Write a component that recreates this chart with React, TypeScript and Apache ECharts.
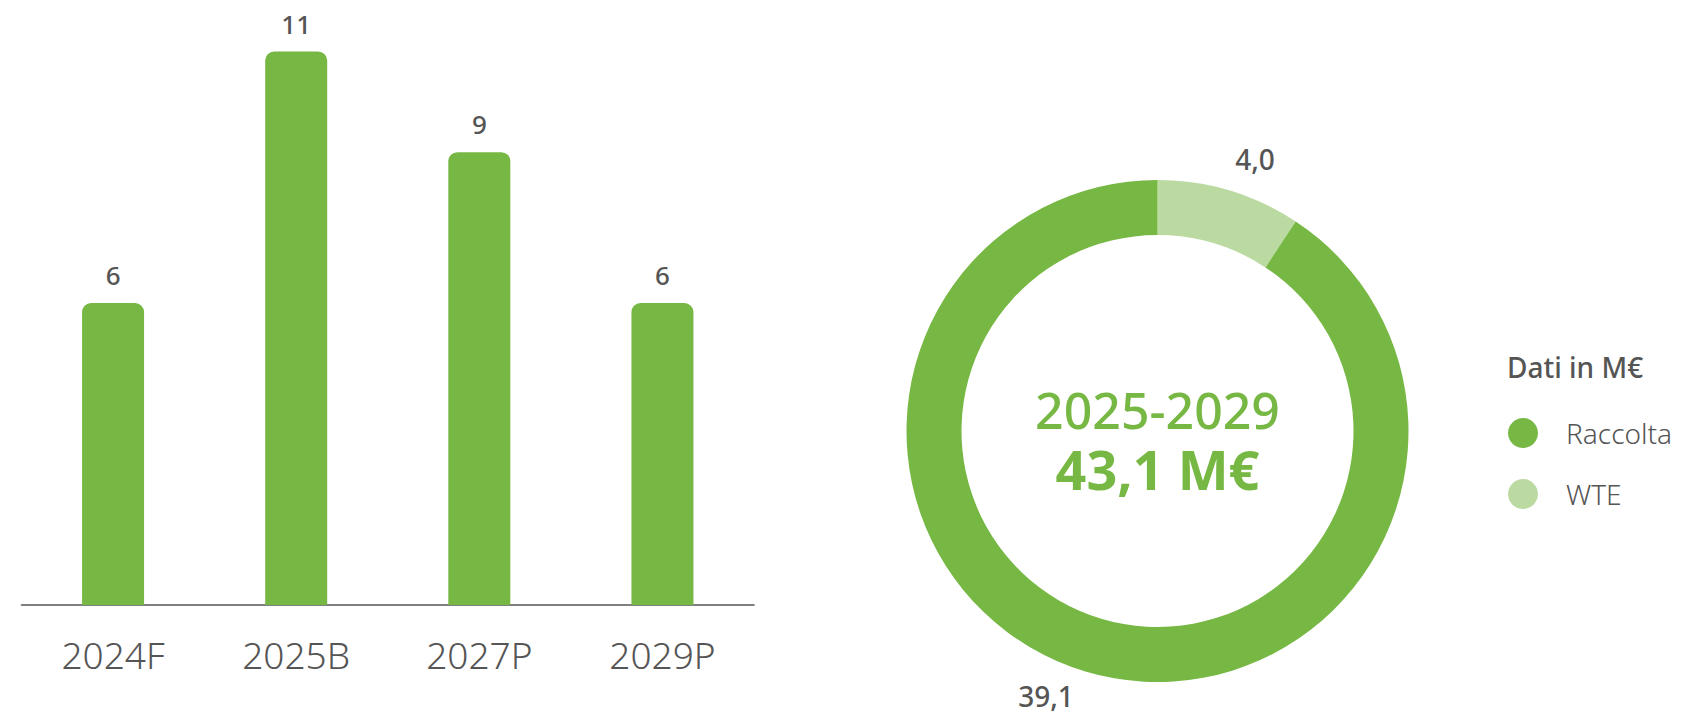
import React, { useEffect, useRef } from "react";
import * as echarts from "echarts";

const categories = ["2024F", "2025B", "2027P", "2029P"];
const barValues = [6, 11, 9, 6];
const pieNames = ["WTE", "Raccolta"];
const pieValues = [4.0, 39.1];
const pieLabels = ["4,0", "39,1"];
const legendOrder = ["Raccolta", "WTE"];
const centerLine1 = "2025-2029";
const centerLine2 = "43,1 M€";
const legendTitle = "Dati in M€";

const GREEN = "#76B843";
const LIGHT = "#BBDAA2";
const TEXT = "#555555";
const FONT = "'Noto Sans', sans-serif";

export default function App() {
  const ref = useRef<HTMLDivElement>(null);
  useEffect(() => {
    if (!ref.current) return;
    const chart = echarts.init(ref.current, undefined, { renderer: "svg" });
    const labelPos = [
      { x: 1255, y: 159 },
      { x: 1046, y: 696 },
    ];
    chart.setOption({
      animation: false,
      textStyle: { fontFamily: FONT },
      title: {
        text: legendTitle,
        left: 1507,
        top: 352,
        padding: 0,
        textStyle: { fontSize: 28, fontWeight: 500, color: TEXT, fontFamily: FONT, lineHeight: 30 },
      },
      legend: {
        data: legendOrder,
        orient: "vertical",
        left: 1508,
        top: 418,
        padding: 0,
        itemWidth: 30,
        itemHeight: 30,
        itemGap: 31,
        icon: "circle",
        textStyle: { fontSize: 28, fontWeight: 300, color: TEXT, padding: [0, 0, 0, 23], fontFamily: FONT },
      },
      grid: { left: 21.5, right: 928, top: 51.5, bottom: 109 },
      xAxis: {
        type: "category",
        data: categories,
        axisTick: { show: false },
        axisLine: { lineStyle: { color: TEXT, width: 1.5 } },
        axisLabel: { fontSize: 37, fontWeight: 300, color: TEXT, margin: 31, lineHeight: 37, fontFamily: FONT },
      },
      yAxis: { type: "value", min: 0, max: 11, show: false, splitLine: { show: false } },
      graphic: [
        {
          type: "text",
          x: 1157.5,
          y: 439.5,
          style: {
            text: `{a|${centerLine1}}\n{b|${centerLine2}}`,
            textAlign: "center",
            textVerticalAlign: "middle",
            fontFamily: FONT,
            fill: GREEN,
            rich: {
              a: { fontSize: 50, lineHeight: 59, fontWeight: 500, fontFamily: FONT, color: GREEN },
              b: { fontSize: 54, lineHeight: 59, fontWeight: 700, fontFamily: FONT, color: GREEN },
            },
          },
        },
      ],
      series: [
        {
          type: "bar",
          data: barValues,
          barWidth: 62,
          itemStyle: { color: GREEN, borderRadius: [9, 9, 0, 0] },
          label: {
            show: true,
            position: "top",
            distance: 15,
            fontSize: 26,
            fontWeight: 500,
            color: TEXT,
            fontFamily: FONT,
          },
        },
        {
          type: "pie",
          center: [1157.5, 431],
          radius: [196, 251],
          startAngle: 90,
          clockwise: true,
          silent: true,
          data: pieNames.map((n, i) => ({
            name: n,
            value: pieValues[i],
            itemStyle: { color: i === 0 ? LIGHT : GREEN },
          })),
          label: {
            show: true,
            position: "outside",
            formatter: (p: any) => pieLabels[p.dataIndex],
            fontSize: 28,
            lineHeight: 28,
            fontWeight: 500,
            color: TEXT,
            fontFamily: FONT,
          },
          labelLine: { show: false },
          labelLayout: (p: any) => ({
            x: labelPos[p.dataIndex].x,
            y: labelPos[p.dataIndex].y,
            align: "center",
            verticalAlign: "middle",
          }),
        },
      ],
    });
    return () => chart.dispose();
  }, []);
  return (
    <div
      ref={ref}
      style={{ position: "fixed", left: 0, top: 0, width: 1682, height: 714, background: "#fff" }}
    />
  );
}
